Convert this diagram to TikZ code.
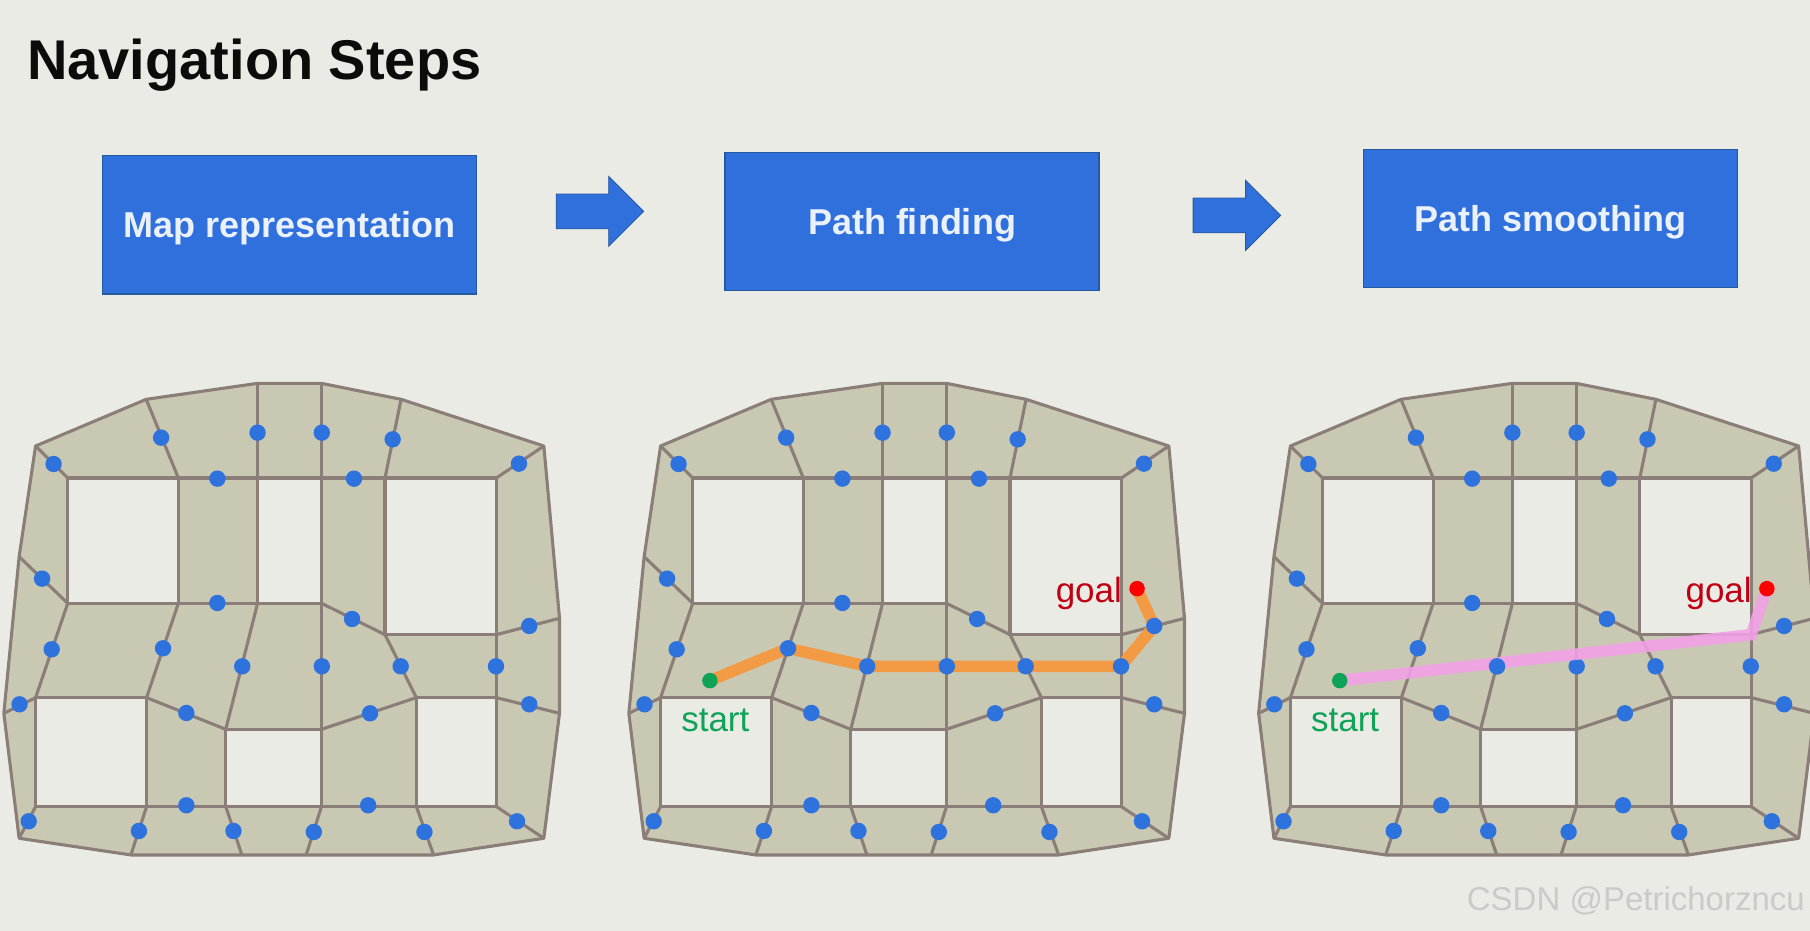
\documentclass[tikz,border=0pt]{standalone}
\usepackage{fontspec}
\setmainfont{Liberation Sans}
\usetikzlibrary{shapes,arrows}
\pgfdeclarelayer{background}
\pgfdeclarelayer{foreground}
\pgfsetlayers{background,main,foreground}

\definecolor{slidebg}{HTML}{EBEBE6}
\definecolor{meshfill}{HTML}{C9C8B3}
\definecolor{meshline}{HTML}{8B7E78}
\definecolor{dotblue}{HTML}{2E72DE}
\definecolor{boxblue}{HTML}{3070DC}
\definecolor{boxline}{HTML}{24589F}
\definecolor{routeorange}{HTML}{F39A45}
\definecolor{routepink}{HTML}{F3A0E8}
\definecolor{startgreen}{HTML}{0FA358}
\definecolor{goalred}{HTML}{C00012}

% Walkable mesh, in the units of one panel
\newcommand{\navmesh}{
    \foreach \n/\x/\y in {o1/93/228, o2/382/88, o3/673/40, o4/840/40,
        o5/1048/88, o6/1421/228, o7/1462/745, o8/1462/1030, o9/1421/1405,
        o10/1133/1455, o11/800/1455, o12/632/1455, o13/342/1455,
        o14/50/1405, o15/10/1030, o16/50/560,
        c1/177/324, c2/466/324, c3/673/324, c4/840/324, c5/1006/324,
        c6/1297/324, c7/177/700, c8/466/700, c9/673/700, c10/840/700,
        c11/1006/794, c12/1297/794, c13/93/983, c14/383/983, c15/590/1078,
        c16/840/1078, c17/1088/983, c18/1297/983, c19/93/1310, c20/383/1310,
        c21/590/1310, c22/840/1310, c23/1088/1310, c24/1297/1310}
        \coordinate (\n) at (\x,\y);
    \begin{pgfonlayer}{background}
        \draw [meshedge, fill=meshfill] (o1) -- (o2) -- (o3) -- (o4) -- (o5)
            -- (o6) -- (o7) -- (o8) -- (o9) -- (o10) -- (o11) -- (o12)
            -- (o13) -- (o14) -- (o15) -- (o16) -- cycle;
        \foreach \a/\b/\c/\d in {c1/c2/c8/c7, c3/c4/c10/c9, c5/c6/c12/c11,
            c13/c14/c20/c19, c15/c16/c22/c21, c17/c18/c24/c23}
            \draw [meshedge, fill=slidebg] (\a) -- (\b) -- (\c) -- (\d) -- cycle;
        \foreach \a/\b in {o1/c1, o2/c2, o3/c3, o4/c4, o5/c5, o6/c6, c2/c3,
            c4/c5, c8/c9, o16/c7, c7/c13, c8/c14, c9/c15, c10/c16, c10/c11,
            c11/c17, c12/o7, c12/c18, c18/o8, c13/o15, c19/o14, c20/o13,
            c21/o12, c22/o11, c23/o10, c24/o9, c14/c15, c16/c17, c20/c21,
            c22/c23}
            \draw [meshedge] (\a) -- (\b);
    \end{pgfonlayer}
}

% Blue way points
\newcommand{\navdots}{
    \foreach \x/\y [count=\i] in {140/282, 421/203, 673/188, 841/188, 1026/208,
        1356/281, 568/326, 925/326, 110/626, 568/699, 920/747, 1383/768,
        135/838, 426/835, 633/889, 841/889, 1047/889, 1296/889, 51/1003,
        487/1029, 967/1030, 1383/1003, 487/1306, 962/1306, 75/1354, 363/1383,
        610/1383, 820/1386, 1109/1386, 1351/1354}
        \node [waypoint] (d\i) at (\x,\y) {};
}

% Start and goal of a route
\newcommand{\navends}{
    \begin{pgfonlayer}{foreground}
        \node [enddot, fill=startgreen] (start) at (222,932) {};
        \node [enddot, fill=red] (goal) at (1338,656) {};
    \end{pgfonlayer}
    \node [endlabel, text=startgreen] (startlabel) at (236,1085) {start};
    \node [endlabel, text=goalred] (goallabel) at (1212,697) {goal};
}

\begin{document}
\begin{tikzpicture}[x = 1pt, y = -1pt]

    % Define block styles
    \tikzstyle{block} = [rectangle, draw = boxline, line width = 1.4pt,
        fill = boxblue, text = white!90!boxblue, font = \fontsize{36}{40}\selectfont\bfseries,
        minimum width = 374pt, minimum height = 138.5pt,
        text height = 25pt, text depth = 0pt]
    \tikzstyle{flow} = [single arrow, draw = boxline, line width = 0.8pt, fill = boxblue,
        anchor = tail, inner xsep = 0pt, inner ysep = 17pt, minimum height = 87.5pt,
        minimum width = 69.5pt, single arrow head extend = 17.6pt]
    \tikzstyle{panel} = [x = 0.3827pt, y = -0.3333pt]
    \tikzstyle{meshedge} = [draw = meshline, line width = 3.1pt, line join = round]
    \tikzstyle{waypoint} = [circle, fill = dotblue, inner sep = 0pt, minimum size = 16.4pt]
    \tikzstyle{enddot} = [circle, inner sep = 0pt, minimum size = 15.5pt]
    \tikzstyle{endlabel} = [anchor = base, inner sep = 0pt, font = \fontsize{35}{40}\selectfont]

    \useasboundingbox (0,0) rectangle (1810,931);
    \begin{pgfonlayer}{background}
        \fill [slidebg] (0,0) rectangle (1810,931);
    \end{pgfonlayer}

    % Place nodes
    \node [anchor = base west, inner sep = 0pt, font = \fontsize{56}{60}\selectfont\bfseries,
        text = black!95!slidebg] (title) at (27,80) {Navigation Steps};
    \node [block] (map) at (289.4,224.6) {Map representation};
    \node [block] (find) at (912,221.5) {Path finding};
    \node [block] (smooth) at (1550.2,218.5) {Path smoothing};
    \node [flow] (flowa) at (555.8,211.4) {};
    \node [flow] (flowb) at (1192.7,215.4) {};

    % Mesh with way points only
    \begin{scope}[panel, shift = {(0pt,-370pt)}, name prefix = mapping-]
        \navmesh
        \navdots
    \end{scope}

    % Mesh with the found route
    \begin{scope}[panel, shift = {(625pt,-370pt)}, name prefix = finding-]
        \navmesh
        \navends
        \begin{pgfonlayer}{foreground}
            \navdots
        \end{pgfonlayer}
        \draw [routeorange, line width = 11.5pt] (start.center) -- (d14.center)
            -- (d15.center) -- (d16.center) -- (d17.center) -- (d18.center)
            -- (d12.center) -- (goal.center);
    \end{scope}

    % Mesh with the smoothed route
    \begin{scope}[panel, shift = {(1254.8pt,-370pt)}, name prefix = smoothing-]
        \navmesh
        \navdots
        \navends
        \draw [routepink, opacity = 0.88, line width = 11.5pt] (start.center)
            -- (c12) -- (goal.center);
        \begin{pgfonlayer}{foreground}
            \fill [dotblue] (d15.center) circle [radius = 8.2pt];
        \end{pgfonlayer}
    \end{scope}

    \node [anchor = base east, inner sep = 0pt, font = \fontsize{33}{38}\selectfont,
        text = black!14!slidebg] (mark) at (1805,910) {CSDN @Petrichorzncu};

\end{tikzpicture}
\end{document}
